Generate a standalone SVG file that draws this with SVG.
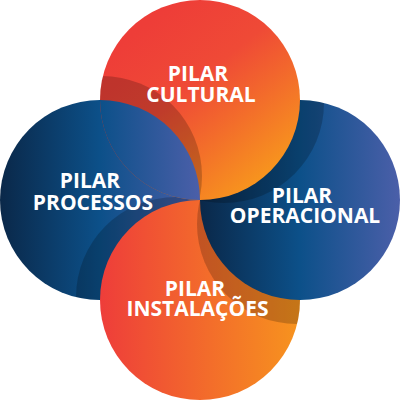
<svg xmlns="http://www.w3.org/2000/svg" width="400" height="400" viewBox="0 0 400 400">
<defs>
<linearGradient id="gBlue" x1="0" y1="0" x2="1" y2="0">
<stop offset="0" stop-color="#0a2849"/>
<stop offset="0.5" stop-color="#0c5089"/>
<stop offset="1" stop-color="#4b5fa9"/>
</linearGradient>
<linearGradient id="gTop" x1="0.25" y1="0.1" x2="0.85" y2="0.85">
<stop offset="0" stop-color="#ee3d38"/>
<stop offset="0.4" stop-color="#ef4a36"/>
<stop offset="1" stop-color="#f7931e"/>
</linearGradient>
<linearGradient id="gBot" x1="0" y1="0" x2="1" y2="0">
<stop offset="0" stop-color="#ee3d3a"/>
<stop offset="1" stop-color="#f7941e"/>
</linearGradient>
<clipPath id="cL"><circle cx="100" cy="200" r="100"/></clipPath>
<clipPath id="cT"><circle cx="200" cy="100" r="100"/></clipPath>
<clipPath id="cR"><circle cx="300" cy="200" r="100"/></clipPath>
<clipPath id="cB"><circle cx="200" cy="300" r="100"/></clipPath>
</defs>
<style>
.lbl{font-family:"Open Sans","Liberation Sans",sans-serif;font-weight:700;font-size:21px;fill:#ffffff;text-anchor:middle}
.sh{fill:#000000;fill-opacity:0.2}
</style>
<g id="pilar-processos">
<circle cx="100" cy="200" r="100" fill="url(#gBlue)"/>
<circle class="sh" cx="176" cy="297" r="100" clip-path="url(#cL)"/>
<text class="lbl" x="90" y="188">PILAR</text>
<text class="lbl" x="93" y="210">PROCESSOS</text>
</g>
<g id="pilar-instalacoes">
<circle cx="200" cy="300" r="100" fill="url(#gBot)"/>
<circle class="sh" cx="297" cy="224" r="100" clip-path="url(#cB)"/>
<text class="lbl" x="195" y="296">PILAR</text>
<text class="lbl" x="197.5" y="316">INSTALAÇÕES</text>
</g>
<g id="pilar-operacional">
<circle cx="300" cy="200" r="100" fill="url(#gBlue)"/>
<circle class="sh" cx="224" cy="103" r="100" clip-path="url(#cR)"/>
<text class="lbl" x="302" y="203">PILAR</text>
<text class="lbl" x="305" y="223">OPERACIONAL</text>
</g>
<g id="pilar-cultural">
<circle cx="200" cy="100" r="100" fill="url(#gTop)"/>
<circle class="sh" cx="102" cy="176" r="100" clip-path="url(#cT)"/>
<text class="lbl" x="198" y="81">PILAR</text>
<text class="lbl" x="201" y="102">CULTURAL</text>
</g>
<g id="overlap-processos-over-cultural">
<circle cx="100" cy="200" r="100" fill="url(#gBlue)" clip-path="url(#cT)"/>
</g>
</svg>
